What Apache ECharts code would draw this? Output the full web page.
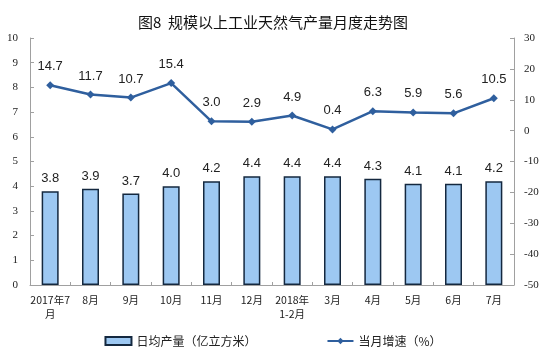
<!DOCTYPE html>
<html><head><meta charset="utf-8">
<script src="https://cdn.jsdelivr.net/npm/echarts@6/dist/echarts.min.js"></script>
<style>html,body{margin:0;padding:0;background:#fff}#c{width:546px;height:364px}</style>
</head><body><div id="c"></div>
<script>
const categories = ['2017年7\n月','8月','9月','10月','11月','12月','2018年\n1-2月','3月','4月','5月','6月','7月'];
const dailyOutput = [3.8,3.9,3.7,4.0,4.2,4.4,4.4,4.4,4.3,4.1,4.1,4.2];
const monthlyGrowth = [14.7,11.7,10.7,15.4,3.0,2.9,4.9,0.4,6.3,5.9,5.6,10.5];
const titleText = '图8  规模以上工业天然气产量月度走势图';
const barName = '日均产量（亿立方米）';
const lineName = '当月增速（%）';

const chart = echarts.init(document.getElementById('c'));
const axisLine = {show:true, lineStyle:{color:'#a0a0a0', width:1}};
const serif = {fontFamily:'Liberation Serif', fontSize:11, color:'#222'};
chart.setOption({
  animation:false,
  title:{text:titleText, left:'center', top:10, textStyle:{fontFamily:'Noto Sans CJK SC', fontSize:15, fontWeight:'normal', color:'#111'}},
  grid:{left:30, right:32, top:38, bottom:79, containLabel:false},
  legend:{
    bottom:12, itemGap:70, itemWidth:26, itemHeight:8,
    textStyle:{fontFamily:'Noto Sans CJK SC', fontSize:12, color:'#222'},
    data:[{name:barName, icon:'rect'}, {name:lineName}]
  },
  xAxis:{
    type:'category', data:categories,
    axisLine:axisLine, axisTick:{show:true, inside:true, length:3, lineStyle:{color:'#a0a0a0'}},
    axisLabel:{fontFamily:'Noto Sans CJK SC', fontSize:10.5, color:'#222', margin:8, lineHeight:14, interval:0}
  },
  yAxis:[
    {type:'value', min:0, max:10, interval:1, splitLine:{show:false},
     axisLine:axisLine, axisTick:{show:true, inside:true, length:4, lineStyle:{color:'#a0a0a0'}},
     axisLabel:Object.assign({margin:12}, serif)},
    {type:'value', min:-50, max:30, interval:10, splitLine:{show:false},
     axisLine:axisLine, axisTick:{show:true, inside:true, length:4, lineStyle:{color:'#a0a0a0'}},
     axisLabel:Object.assign({margin:10}, serif)}
  ],
  series:[
    {name:barName, type:'bar', yAxisIndex:0, data:dailyOutput, barWidth:17,
     itemStyle:{color:'#9dc8f2', borderColor:'#14283f', borderWidth:1.5},
     label:{show:true, position:'top', distance:6, formatter:p=>p.value.toFixed(1), fontFamily:'Liberation Sans', fontSize:13, color:'#222'}},
    {name:lineName, type:'line', yAxisIndex:1, data:monthlyGrowth,
     symbol:'diamond', symbolSize:8, lineStyle:{color:'#2f5f9e', width:2.5}, itemStyle:{color:'#2f5f9e'},
     label:{show:true, position:'top', distance:8, formatter:p=>p.value.toFixed(1), fontFamily:'Liberation Sans', fontSize:13, color:'#222'}}
  ]
});
</script></body></html>
